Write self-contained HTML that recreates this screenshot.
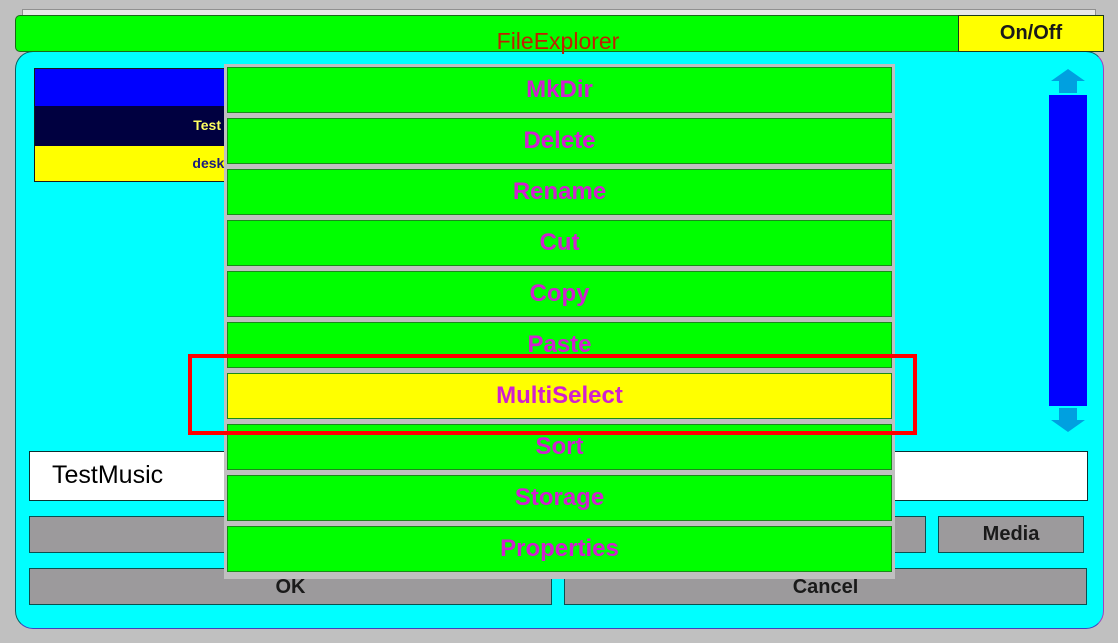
<!DOCTYPE html>
<html><head><style>
*{margin:0;padding:0;box-sizing:border-box}
body{width:1118px;height:643px;background:#c0c0c0;position:relative;overflow:hidden;font-family:"Liberation Sans",sans-serif}
.a{position:absolute}
.mi{position:absolute;left:227px;width:665px;height:46px;background:#00ff00;border:1px solid #1a8a1a;color:#d020d0;font-weight:bold;font-size:24px;text-align:center;line-height:44px}
.gb{position:absolute;background:#9c9a9c;border:1px solid #0a5050;color:#1a1a1a;font-weight:bold;font-size:20px;text-align:center;line-height:34px}
</style></head><body>
<div class="a" style="left:22px;top:9px;width:1074px;height:10px;background:#e8e8e8;border:1px solid #909090"></div>
<div class="a" style="left:15px;top:51px;width:1089px;height:578px;background:#00ffff;border:1px solid #0a6060;border-radius:18px;border-right-color:#a040c0;border-bottom-color:#4040c0"></div>
<div class="a" style="left:15px;top:15px;width:944px;height:37px;background:#00ff00;border:1px solid #1a6a1a;border-radius:5px 0 0 5px;color:#c02000;font-size:23px;text-align:center;line-height:50px;padding-left:142px">FileExplorer</div>
<div class="a" style="left:958px;top:15px;width:146px;height:37px;background:#ffff00;border:1px solid #1a3a1a;color:#1a1a1a;font-weight:bold;font-size:20px;text-align:center;line-height:34px">On/Off</div>
<div class="a" style="left:34px;top:68px;width:200px;height:114px;border:1px solid #1a1a1a">
<div style="height:37px;background:#0000ff"></div>
<div style="height:40px;background:#000040;color:#ffff60;font-size:14px;font-weight:bold;text-align:right;padding-right:12px;line-height:38px">Test</div>
<div style="height:35px;background:#ffff00;color:#1a1a80;font-size:14px;font-weight:bold;text-align:right;padding-right:4px;line-height:34px">deskt</div>
</div>
<div class="a" style="left:1051px;top:69px;width:0;height:0;border-left:17px solid transparent;border-right:17px solid transparent;border-bottom:12px solid #00a0e0"></div>
<div class="a" style="left:1059px;top:80px;width:18px;height:13px;background:#00a0e0"></div>
<div class="a" style="left:1049px;top:95px;width:38px;height:311px;background:#0000ff"></div>
<div class="a" style="left:1059px;top:408px;width:18px;height:13px;background:#00a0e0"></div>
<div class="a" style="left:1051px;top:420px;width:0;height:0;border-left:17px solid transparent;border-right:17px solid transparent;border-top:12px solid #00a0e0"></div>
<div class="a" style="left:29px;top:451px;width:1059px;height:50px;background:#fff;border:1px solid #0a3030;font-size:25px;padding-left:22px;line-height:46px">TestMusic</div>
<div class="gb" style="left:29px;top:516px;width:897px;height:37px"></div>
<div class="gb" style="left:938px;top:516px;width:146px;height:37px">Media</div>
<div class="gb" style="left:29px;top:568px;width:523px;height:37px;line-height:36px">OK</div>
<div class="gb" style="left:564px;top:568px;width:523px;height:37px;line-height:36px">Cancel</div>
<div class="a" style="left:224px;top:64px;width:671px;height:515px;background:#c0c0c0"></div>
<div class="mi" style="top:67px">MkDir</div>
<div class="mi" style="top:118px">Delete</div>
<div class="mi" style="top:169px">Rename</div>
<div class="mi" style="top:220px">Cut</div>
<div class="mi" style="top:271px">Copy</div>
<div class="mi" style="top:322px">Paste</div>
<div class="mi" style="top:373px;background:#ffff00">MultiSelect</div>
<div class="mi" style="top:424px">Sort</div>
<div class="mi" style="top:475px">Storage</div>
<div class="mi" style="top:526px">Properties</div>
<div class="a" style="left:188px;top:354px;width:729px;height:81px;border:4px solid #ff0000"></div>
</body></html>
